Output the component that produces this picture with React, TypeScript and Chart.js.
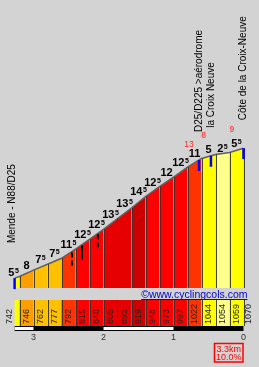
import React, { useEffect, useRef } from "react";
import { Chart, registerables } from "chart.js";

Chart.register(...registerables);

// distance from start (km) of each profile point
const distances = [0, 0.07, 0.27, 0.47, 0.67, 0.87, 1.07, 1.27, 1.47, 1.67, 1.87, 2.07, 2.27, 2.47, 2.67, 2.87, 3.07, 3.27];
// altitude (m) of each profile point
const altitudes = [742, 746, 762, 777, 792, 815, 840, 865, 892, 919, 948, 973, 997, 1022, 1044, 1054, 1059, 1070];
// gradient (%) of each segment
const gradients = [5.5, 8, 7.5, 7.5, 11.5, 12.5, 12.5, 13.5, 13.5, 14.5, 12.5, 12, 12.5, 11, 5, 2.5, 5.5];

const poiKm = [0, 2.635, 2.805, 3.27];
const poiNames = ["Mende - N88/D25", "D25/D225 >aérodrome", "la Croix Neuve", "Côte de la Croix-Neuve"];

const detailKm = [0.82, 0.963, 1.19];
const detailDashed = [true, false, true];

const maxGradKm = [2.49, 2.7, 3.105];
const maxGradValues = [13, 8, 9];

const kmTicks = [3, 2, 1, 0];
const totalLabel = "3.3km";
const avgLabel = "10.0%";
const watermark = "©www.cyclingcols.com";

const FONT = '"Liberation Sans", Arial, sans-serif';

function gradColor(g: number): string {
  if (g < 3) return "#ffff8c";
  if (g < 6) return "#ffff00";
  if (g < 8) return "#ffc000";
  if (g < 9) return "#ff9e00";
  if (g < 10) return "#ff6600";
  if (g < 12) return "#ff3300";
  if (g < 13) return "#ff0000";
  if (g < 14) return "#e60000";
  return "#cc0000";
}

function altAt(km: number): number {
  for (let i = 0; i < distances.length - 1; i++) {
    if (km <= distances[i + 1]) {
      const t = (km - distances[i]) / (distances[i + 1] - distances[i]);
      return altitudes[i] + t * (altitudes[i + 1] - altitudes[i]);
    }
  }
  return altitudes[altitudes.length - 1];
}

function vText(ctx: CanvasRenderingContext2D, text: string, x: number, yBottom: number) {
  ctx.save();
  ctx.translate(x, yBottom);
  ctx.rotate(-Math.PI / 2);
  ctx.textAlign = "left";
  ctx.textBaseline = "middle";
  ctx.fillText(text, 0, 0);
  ctx.restore();
}

function gradLabel(ctx: CanvasRenderingContext2D, g: number, cx: number, baseline: number) {
  const main = String(Math.floor(g));
  const half = g % 1 !== 0;
  ctx.font = `bold 11px ${FONT}`;
  const w1 = ctx.measureText(main).width;
  ctx.font = `bold 7px ${FONT}`;
  const w2 = half ? ctx.measureText("5").width + 0.5 : 0;
  const start = cx - (w1 + w2) / 2;
  ctx.fillStyle = "#000";
  ctx.textAlign = "left";
  ctx.textBaseline = "alphabetic";
  ctx.font = `bold 11px ${FONT}`;
  ctx.fillText(main, start, baseline);
  if (half) {
    ctx.font = `bold 7px ${FONT}`;
    ctx.fillText("5", start + w1 + 0.5, baseline - 3);
  }
}

const profilePlugin = {
  id: "profileDecor",
  beforeDraw(chart: any) {
    const ctx = chart.ctx;
    ctx.save();
    ctx.fillStyle = "#d3d3d3";
    ctx.fillRect(0, 0, chart.width, chart.height);
    ctx.restore();
  },
  afterDatasetsDraw(chart: any) {
    const ctx = chart.ctx as CanvasRenderingContext2D;
    const xs = chart.scales.x;
    const ys = chart.scales.y;
    const base = chart.chartArea.bottom;
    ctx.save();
    ctx.strokeStyle = "rgba(50,50,50,0.9)";
    ctx.lineWidth = 1;
    for (let i = 1; i < distances.length; i++) {
      const x = Math.round(xs.getPixelForValue(distances[i])) + 0.5;
      const y = ys.getPixelForValue(altitudes[i]);
      ctx.beginPath();
      ctx.moveTo(x, y);
      ctx.lineTo(x, base);
      ctx.stroke();
    }
    ctx.restore();
  },
  afterDraw(chart: any) {
    const ctx = chart.ctx as CanvasRenderingContext2D;
    const xs = chart.scales.x;
    const ys = chart.scales.y;
    const total = distances[distances.length - 1];
    ctx.save();

    // black detail markers
    ctx.strokeStyle = "#000";
    ctx.lineWidth = 2;
    detailKm.forEach((km, i) => {
      const x = xs.getPixelForValue(km);
      const y = ys.getPixelForValue(altAt(km));
      ctx.setLineDash(detailDashed[i] ? [5, 3] : []);
      ctx.beginPath();
      ctx.moveTo(x, y + 1);
      ctx.lineTo(x, y + 15);
      ctx.stroke();
    });
    ctx.setLineDash([]);

    // blue location markers
    ctx.strokeStyle = "#0000ff";
    ctx.lineWidth = 2.5;
    poiKm.forEach((km) => {
      const x = xs.getPixelForValue(km);
      const y = ys.getPixelForValue(altAt(km));
      ctx.beginPath();
      ctx.moveTo(x, y);
      ctx.lineTo(x, y + 11);
      ctx.stroke();
    });

    // location names
    ctx.fillStyle = "#000";
    ctx.font = `10px ${FONT}`;
    poiKm.forEach((km, i) => {
      const x = xs.getPixelForValue(km);
      const y = ys.getPixelForValue(altAt(km));
      vText(ctx, poiNames[i], x - (i === 0 ? 2 : 0), y - (i === 0 ? 35 : 28));
    });

    // gradient labels
    for (let i = 0; i < gradients.length; i++) {
      const x0 = xs.getPixelForValue(distances[i]);
      const x1 = xs.getPixelForValue(distances[i + 1]);
      const cx = x1 - x0 < 10 ? x0 - 1 : (x0 + x1) / 2;
      const yb = ys.getPixelForValue(altitudes[i + 1]) - 1;
      gradLabel(ctx, gradients[i], cx, yb);
    }

    // red max-gradient numbers
    ctx.fillStyle = "#ff2020";
    ctx.font = `8.5px ${FONT}`;
    ctx.textAlign = "center";
    ctx.textBaseline = "alphabetic";
    maxGradKm.forEach((km, i) => {
      const x = xs.getPixelForValue(km);
      const y = ys.getPixelForValue(altAt(km));
      ctx.fillText(String(maxGradValues[i]), x, y - 19.5);
    });

    // watermark
    ctx.fillStyle = "#0000cc";
    ctx.font = `10.5px ${FONT}`;
    ctx.textAlign = "right";
    ctx.textBaseline = "alphabetic";
    const wmRight = xs.getPixelForValue(total) + 4;
    ctx.fillText(watermark, wmRight, 298);
    const wmW = ctx.measureText(watermark).width;
    ctx.fillStyle = "#0000ff";
    ctx.fillRect(wmRight - wmW, 299, wmW, 1);

    // altitude strip
    const sTop = 300;
    const sBot = 326;
    for (let i = 0; i < gradients.length; i++) {
      const x0 = xs.getPixelForValue(distances[i]);
      const x1 = xs.getPixelForValue(distances[i + 1]);
      ctx.fillStyle = gradColor(gradients[i]);
      ctx.fillRect(x0, sTop, x1 - x0, sBot - sTop);
    }
    ctx.strokeStyle = "rgba(50,50,50,0.9)";
    ctx.lineWidth = 1;
    for (let i = 1; i < distances.length; i++) {
      const x = Math.round(xs.getPixelForValue(distances[i])) + 0.5;
      ctx.beginPath();
      ctx.moveTo(x, sTop);
      ctx.lineTo(x, sBot);
      ctx.stroke();
    }
    ctx.fillStyle = "#222";
    ctx.font = `9px ${FONT}`;
    for (let j = 0; j < altitudes.length; j++) {
      const x = xs.getPixelForValue(distances[j]);
      let cx: number;
      if (j === 0) cx = x - 5;
      else if (j === altitudes.length - 1) cx = x + 5;
      else cx = x + (xs.getPixelForValue(distances[j + 1]) - x) / 2;
      vText(ctx, String(altitudes[j]), cx, 324);
    }

    // distance bar
    const xa = xs.getPixelForValue(0);
    const xb = xs.getPixelForValue(total);
    ctx.fillStyle = "#000";
    ctx.fillRect(xa, 326, xb - xa, 5);
    ctx.fillStyle = "#fff";
    for (let k = 0; k < kmTicks.length - 1; k++) {
      const kmA = total - kmTicks[k];
      const kmB = total - kmTicks[k + 1];
      if (k % 2 === 1) {
        const pa = xs.getPixelForValue(Math.max(0, kmA));
        const pb = xs.getPixelForValue(kmB);
        ctx.fillRect(pa, 327, pb - pa, 3);
      }
    }
    {
      const pb = xs.getPixelForValue(total - kmTicks[0]);
      ctx.fillRect(xa, 327, pb - xa, 3);
    }
    ctx.fillStyle = "#333";
    ctx.font = `9px ${FONT}`;
    ctx.textAlign = "center";
    ctx.textBaseline = "alphabetic";
    kmTicks.forEach((k) => {
      ctx.fillText(String(k), xs.getPixelForValue(total - k), 339.5);
    });

    // summary box
    ctx.strokeStyle = "#ff0000";
    ctx.lineWidth = 1.5;
    ctx.strokeRect(214.5, 343.5, 28.5, 18.5);
    ctx.fillStyle = "#ff0000";
    ctx.font = `9px ${FONT}`;
    ctx.textAlign = "center";
    ctx.fillText(totalLabel, 228.75, 351.5);
    ctx.fillText(avgLabel, 228.75, 360.3);

    ctx.restore();
  },
};

export default function App() {
  const ref = useRef<HTMLCanvasElement | null>(null);
  useEffect(() => {
    const canvas = ref.current;
    if (!canvas) return;
    const points = distances.map((d, i) => ({ x: d, y: altitudes[i] }));
    const segDatasets = gradients.map((g, i) => ({
      type: "line" as const,
      data: [
        { x: distances[i], y: altitudes[i] },
        { x: distances[i + 1], y: altitudes[i + 1] },
      ],
      backgroundColor: gradColor(g),
      borderWidth: 0,
      borderColor: "rgba(0,0,0,0)",
      fill: "start",
      pointRadius: 0,
      tension: 0,
    }));
    const chart = new Chart(canvas, {
      type: "line",
      data: {
        datasets: [
          {
            data: points,
            borderColor: "#606060",
            borderWidth: 1.5,
            fill: false,
            pointRadius: 0,
            tension: 0,
          },
          ...segDatasets,
        ] as any,
      },
      options: {
        responsive: false,
        animation: false,
        devicePixelRatio: 1,
        layout: { padding: { left: 14.6, right: 15.5, top: 0, bottom: 79 } },
        scales: {
          x: { type: "linear", min: 0, max: 3.27, display: false },
          y: { type: "linear", min: 717, max: 1444, display: false },
        },
        plugins: { legend: { display: false }, tooltip: { enabled: false } },
      } as any,
      plugins: [profilePlugin],
    });
    return () => chart.destroy();
  }, []);
  return (
    <div style={{ position: "absolute", left: 0, top: 0, width: 259, height: 367 }}>
      <canvas ref={ref} width={259} height={367} style={{ width: 259, height: 367, display: "block" }} />
    </div>
  );
}
